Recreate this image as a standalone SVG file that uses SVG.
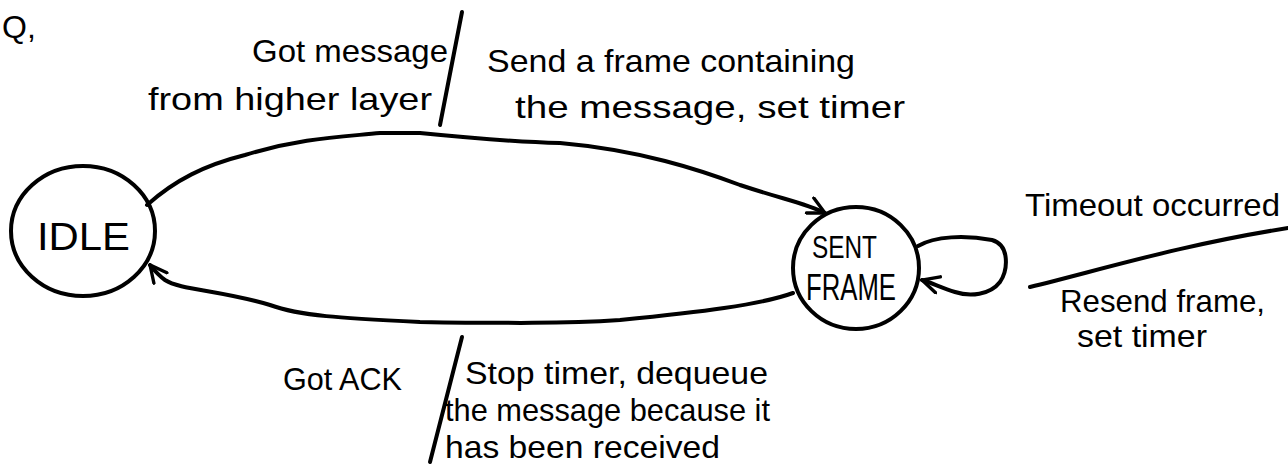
<svg xmlns="http://www.w3.org/2000/svg" width="1288" height="467" viewBox="0 0 1288 467">
<style>
.s{fill:none;stroke:#000;stroke-width:4;stroke-linecap:round;stroke-linejoin:round}
.t{font-family:"Liberation Sans",Arial,sans-serif;font-size:32px;fill:#000}
.n{font-family:"Liberation Sans",Arial,sans-serif;fill:#000}
</style>
<defs>
<marker id="ah" viewBox="0 0 12 12" refX="11" refY="6" markerWidth="5" markerHeight="5" orient="auto" markerUnits="strokeWidth">
<path d="M1,1 L11,6 L1,11" fill="none" stroke="#000" stroke-width="2" stroke-linecap="round"/>
</marker>
</defs>
<rect width="1288" height="467" fill="#fff"/>
<text class="t" x="2" y="38" font-size="31">Q,</text>

<g id="idle">
<ellipse class="s" cx="83" cy="231" rx="72" ry="65"/>
<text class="n" x="37" y="250" font-size="38" textLength="93" lengthAdjust="spacingAndGlyphs">IDLE</text>
</g>

<g id="sent-frame">
<ellipse class="s" cx="856" cy="268" rx="63" ry="61"/>
<text class="n" x="812" y="258" font-size="32" textLength="65" lengthAdjust="spacingAndGlyphs">SENT</text>
<text class="n" x="806" y="300" font-size="36" textLength="90" lengthAdjust="spacingAndGlyphs">FRAME</text>
</g>

<g id="connectors">
<path class="s" marker-end="url(#ah)" d="M147,205 C175,180 205,165 245,155 C300,138 340,137 380,133 L420,133 C470,138 520,142 560,143 C640,150 700,170 740,185 C785,200 805,203 825,213"/>
<path class="s" marker-end="url(#ah)" d="M793,293 C760,305 700,312 620,320 C560,324 500,323 420,322 C340,318 300,316 270,305 C220,290 180,290 165,280 C158,275 154,270 150,265"/>
<path class="s" marker-end="url(#ah)" d="M918,246 C935,236 965,235 992,240 C1010,245 1008,270 1000,282 C990,295 970,297 955,292 C942,288 932,283 922,280"/>
<path class="s" d="M462,12 L440,125"/>
<path class="s" d="M462,337 L430,462"/>
<path class="s" d="M1030,287 C1100,270 1180,245 1288,228"/>
</g>

<g id="labels">
<text class="t" x="252" y="62" textLength="196" lengthAdjust="spacingAndGlyphs">Got message</text>
<text class="t" x="148" y="110" textLength="284" lengthAdjust="spacingAndGlyphs">from higher layer</text>
<text class="t" x="487" y="72" textLength="368" lengthAdjust="spacingAndGlyphs">Send a frame containing</text>
<text class="t" x="515" y="118" textLength="390" lengthAdjust="spacingAndGlyphs">the message, set timer</text>
<text class="t" x="1025" y="216" textLength="255" lengthAdjust="spacingAndGlyphs">Timeout occurred</text>
<text class="t" x="1060" y="312" font-size="27" textLength="205" lengthAdjust="spacingAndGlyphs">Resend frame,</text>
<text class="t" x="1077" y="347" font-size="27" textLength="130" lengthAdjust="spacingAndGlyphs">set timer</text>
<text class="t" x="283" y="390" textLength="119" lengthAdjust="spacingAndGlyphs">Got ACK</text>
<text class="t" x="465" y="384" font-size="30" textLength="303" lengthAdjust="spacingAndGlyphs">Stop timer, dequeue</text>
<text class="t" x="445" y="421" font-size="30" textLength="325" lengthAdjust="spacingAndGlyphs">the message because it</text>
<text class="t" x="445" y="458" font-size="30" textLength="275" lengthAdjust="spacingAndGlyphs">has been received</text>
</g>
</svg>
